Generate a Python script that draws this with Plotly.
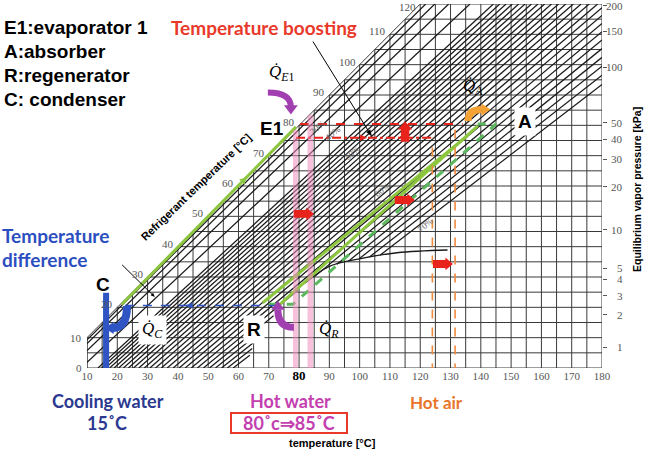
import math
import plotly.graph_objects as go

# ---------------- data ----------------
x_tick_vals = [10, 20, 30, 40, 50, 60, 70, 80, 90, 100, 110, 120, 130, 140, 150, 160, 170, 180]
ref_diag_labels = [20, 30, 40, 50, 60, 70, 80, 90, 100, 110, 120]
pressure_kpa = [200, 150, 100, 50, 40, 30, 20, 10, 5, 4, 3, 2, 1]
pressure_sat_temp = [119.4, 111.0, 99.2, 80.8, 75.4, 68.8, 59.8, 45.6, 32.9, 29.2, 23.9, 17.6, 6.9]

# LiBr concentration lines: solution temp = slope * refrigerant temp + offset
conc_pct = [10, 20, 30, 40, 45, 46, 47, 48, 49, 50, 51, 52, 53, 54, 55, 56, 57, 58, 59,
            60, 61, 62, 63, 64, 65, 66, 67, 68, 69, 70]
line_slope = [1.010, 1.025, 1.045, 1.070, 1.0878, 1.0952, 1.1018, 1.1077, 1.1131, 1.1179,
              1.1224, 1.1267, 1.1309, 1.1352, 1.1395, 1.1442, 1.1492, 1.1547, 1.1608,
              1.1676, 1.1753, 1.1839, 1.1937, 1.2046, 1.2168, 1.2306, 1.2458, 1.2628,
              1.2815, 1.3022]
line_offset = [0.6, 1.8, 4.0, 8.0, 13.62, 14.82, 16.11, 17.48, 18.93, 20.44, 22.02, 23.66,
               25.36, 27.11, 28.91, 30.75, 32.63, 34.54, 36.48, 38.44, 40.42, 42.41, 44.41,
               46.42, 48.42, 50.42, 52.41, 54.38, 56.34, 58.27]

# crystallization boundary (solution temp, refrigerant temp)
cryst_x = [62.0, 67.0, 75.0, 82.0, 90.0, 100.0, 112.3, 129.0, 180.0]
cryst_y = [0.0, 12.0, 21.0, 28.0, 33.5, 36.0, 38.0, 38.9, 39.6]

conc_label_pct = ["30%", "40%", "50%", "60%", "70%"]
conc_label_x = [86.2, 91.2, 97.5, 107.4, 121.6]
conc_label_y = [79.5, 77.6, 71.0, 58.7, 47.2]

# cycle (solution temp, refrigerant temp)
green_ref_x = [21.5, 79.0]
green_ref_y = [21.0, 79.5]
sol1_x = [68.0, 135.5]
sol1_y = [21.5, 76.5]
sol2_x = [73.5, 139.0]
sol2_y = [20.8, 79.8]
dash_x = [70.0, 78.0, 145.0, 139.0]
dash_y = [21.0, 21.0, 80.4, 80.4]

boost_hi_x = [80.3, 134.0]
boost_hi_y = [80.4, 80.4]
boost_lo_x = [79.0, 124.0]
boost_lo_y = [75.9, 75.9]
hot_air_x = [124.0, 131.5]
hot_air_top = [75.9, 80.4]
cond_x = [22.5, 73.7]
cond_y = [20.6, 20.6]
cooling_water_x = [15.3, 17.3]
hot_water_bands = [(78.0, 79.6, 78.5), (82.8, 84.6, 83.5)]

X0, X1, Y0, Y1 = 10, 180, 0, 120

fig = go.Figure()

# ---------------- grid (bounded Dühring region) ----------------
gx, gy = [], []
for v in range(10, 181, 5):
    top = min(max(v, 10), 120)
    gx += [v, v, None]
    gy += [0, top, None]
for h in range(0, 121, 5):
    gx += [max(10, h), 180, None]
    gy += [h, h, None]
gx += [10, 10, 120, None]
gy += [0, 10, 120, None]
fig.add_trace(go.Scatter(x=gx, y=gy, mode="lines", line=dict(color="#3a3a3a", width=1),
                         hoverinfo="skip", showlegend=False))


def cryst_boundary_x(y):
    if y > cryst_y[-1]:
        return 1e9
    for i in range(len(cryst_y) - 1):
        if cryst_y[i] <= y <= cryst_y[i + 1]:
            t = (y - cryst_y[i]) / (cryst_y[i + 1] - cryst_y[i])
            return cryst_x[i] + t * (cryst_x[i + 1] - cryst_x[i])
    return 1e9


# concentration lines, removed inside the crystallization zone
cx, cy = [], []
for a, b in zip(line_slope, line_offset):
    yend = min(120.0, (180.0 - b) / a)
    n = int(yend / 0.2) + 1
    ys = [min(yend, i * 0.2) for i in range(n + 1)]
    seg = []
    for yv in ys:
        ok = (a * yv + b) <= cryst_boundary_x(yv)
        if ok:
            seg.append(yv)
        else:
            if len(seg) > 1:
                cx += [a * seg[0] + b, a * seg[-1] + b, None]
                cy += [seg[0], seg[-1], None]
            seg = []
    if len(seg) > 1:
        cx += [a * seg[0] + b, a * seg[-1] + b, None]
        cy += [seg[0], seg[-1], None]
fig.add_trace(go.Scatter(x=cx, y=cy, mode="lines", line=dict(color="#1a1a1a", width=1.25),
                         hoverinfo="skip", showlegend=False))
fig.add_trace(go.Scatter(x=cryst_x[3:8], y=cryst_y[3:8], mode="lines",
                         line=dict(color="#1a1a1a", width=1.3, shape="spline"),
                         hoverinfo="skip", showlegend=False))

# invisible trace for right axis
fig.add_trace(go.Scatter(x=[180], y=[60], yaxis="y2", mode="markers",
                         marker=dict(opacity=0), hoverinfo="skip", showlegend=False))

GREEN = "#8dc63f"
DGREEN = "#5cb85c"
RED = "#e8231c"
ORANGE = "#f08a3c"
BLUE = "#2f55c4"
PURPLE = "#a23fb0"

fig.add_trace(go.Scatter(x=green_ref_x, y=green_ref_y, mode="lines",
                         line=dict(color=GREEN, width=3), showlegend=False, hoverinfo="skip"))
fig.add_trace(go.Scatter(x=sol1_x, y=sol1_y, mode="lines",
                         line=dict(color=GREEN, width=3), showlegend=False, hoverinfo="skip"))
fig.add_trace(go.Scatter(x=sol2_x, y=sol2_y, mode="lines",
                         line=dict(color=GREEN, width=3), showlegend=False, hoverinfo="skip"))
fig.add_trace(go.Scatter(x=dash_x, y=dash_y, mode="lines",
                         line=dict(color=DGREEN, width=3, dash="dash"), showlegend=False, hoverinfo="skip"))

fig.add_trace(go.Scatter(x=boost_hi_x, y=boost_hi_y, mode="lines",
                         line=dict(color=RED, width=2, dash="dash"), showlegend=False, hoverinfo="skip"))
fig.add_trace(go.Scatter(x=boost_lo_x, y=boost_lo_y, mode="lines",
                         line=dict(color=RED, width=2, dash="dashdot"), showlegend=False, hoverinfo="skip"))
for xv, tv in zip(hot_air_x, hot_air_top):
    fig.add_trace(go.Scatter(x=[xv, xv], y=[-1.5, tv], mode="lines",
                             line=dict(color=ORANGE, width=1.6, dash="dash"), showlegend=False,
                             hoverinfo="skip", cliponaxis=False))
fig.add_trace(go.Scatter(x=cond_x, y=cond_y, mode="lines",
                         line=dict(color=BLUE, width=1.6, dash="dash"), showlegend=False, hoverinfo="skip"))

shapes = []
for x0, x1, top in hot_water_bands:
    shapes.append(dict(type="rect", xref="x", yref="y", x0=x0, x1=x1, y0=0, y1=top,
                       fillcolor="rgba(240,140,190,0.55)", line=dict(width=0), layer="above"))
shapes.append(dict(type="rect", xref="x", yref="y", x0=cooling_water_x[0], x1=cooling_water_x[1],
                   y0=-0.5, y1=24.8, fillcolor=BLUE, line=dict(width=0), layer="above"))


def block_arrow_right(cx_, cy_):
    return dict(type="path", xref="x", yref="y", layer="above", fillcolor=RED, line=dict(width=0),
                path=f"M {cx_-3.3},{cy_-1.3} L {cx_+0.8},{cy_-1.3} L {cx_+0.8},{cy_-2.1} "
                     f"L {cx_+3.3},{cy_} L {cx_+0.8},{cy_+2.1} L {cx_+0.8},{cy_+1.3} "
                     f"L {cx_-3.3},{cy_+1.3} Z")


for cxy in [(81.6, 50.8), (114.9, 55.4), (127.5, 34.3)]:
    shapes.append(block_arrow_right(*cxy))
shapes.append(dict(type="path", xref="x", yref="y", layer="above", fillcolor=RED, line=dict(width=0),
                   path="M 113.6,74.6 L 116.4,74.6 L 116.4,78.6 L 117.4,78.6 L 115.0,81.3 "
                        "L 112.6,78.6 L 113.6,78.6 Z"))


def curved_arrow(p0, c, p1, head, color, w):
    out = [dict(type="path", xref="x", yref="y", layer="above",
                path=f"M {p0[0]},{p0[1]} Q {c[0]},{c[1]} {p1[0]},{p1[1]}",
                line=dict(color=color, width=w))]
    out.append(dict(type="path", xref="x", yref="y", layer="above", fillcolor=color,
                    line=dict(width=0),
                    path=f"M {head[0][0]},{head[0][1]} L {head[1][0]},{head[1][1]} L {head[2][0]},{head[2][1]} Z"))
    return out


def straight_arrow(x0, y0, x1, y1, color, w, hl=2.2, hw=1.0, draw_line=True):
    """line from (x0,y0) to tip (x1,y1) with a filled head (sizes in data units, equal scales)"""
    dx, dy = x1 - x0, y1 - y0
    L = math.hypot(dx, dy)
    ux, uy = dx / L, dy / L
    bx, by = x1 - ux * hl, y1 - uy * hl
    px_, py_ = -uy * hw, ux * hw
    out = []
    if draw_line:
        out.append(dict(type="line", xref="x", yref="y", x0=x0, y0=y0, x1=bx, y1=by,
                        line=dict(color=color, width=w), layer="above"))
    out.append(dict(type="path", xref="x", yref="y", layer="above", fillcolor=color,
                    line=dict(width=0),
                    path=f"M {x1},{y1} L {bx+px_},{by+py_} L {bx-px_},{by-py_} Z"))
    return out


shapes += curved_arrow((69.7, 90.8), (77.3, 90.8), (77.3, 86.0),
                       [(75.0, 86.6), (79.6, 86.6), (77.3, 83.6)], PURPLE, 6)
shapes += curved_arrow((78.3, 13.4), (73.0, 13.4), (73.0, 19.3),
                       [(70.8, 19.2), (75.2, 19.2), (73.0, 22.2)], PURPLE, 7)
shapes += curved_arrow((135.8, 81.4), (135.8, 85.2), (140.3, 85.2),
                       [(140.2, 83.2), (140.2, 87.2), (143.2, 85.2)], "#f5a235", 7)
shapes += curved_arrow((23.2, 20.4), (23.2, 13.2), (18.6, 13.2),
                       [(18.8, 11.2), (18.8, 15.2), (15.8, 13.2)], BLUE, 8)

shapes += straight_arrow(84.6, 107.6, 104.1, 76.2, "black", 1, hl=2.4, hw=0.8)
shapes += straight_arrow(21.6, 34.0, 32.4, 23.4, "black", 1, hl=1.4, hw=0.6)
shapes += straight_arrow(58.0, 58.2, 62.8, 63.0, GREEN, 2, hl=2.4, hw=1.2, draw_line=False)
shapes += straight_arrow(48.0, 20.6, 42.5, 20.6, BLUE, 1.6, hl=2.4, hw=1.0, draw_line=False)
shapes += straight_arrow(96.0, 75.9, 102.5, 75.9, RED, 1.6, hl=2.4, hw=1.0, draw_line=False)

ann = []


def P(px, py):
    return (px - 87) / 515.0, (368 - py) / 364.0


def text(px, py, s, size, color="black", family="Liberation Sans", xanchor="center",
         angle=0, bold=False, bg=None):
    x, y = P(px, py)
    d = dict(xref="paper", yref="paper", x=x, y=y, text=(f"<b>{s}</b>" if bold else s),
             showarrow=False, xanchor=xanchor, yanchor="middle", textangle=angle,
             font=dict(size=size, color=color, family=family))
    if bg:
        d.update(bgcolor=bg, borderpad=3)
    ann.append(d)


for v in ref_diag_labels:
    ann.append(dict(xref="x", yref="y", x=v, y=v, text=str(v), showarrow=False,
                    xanchor="right", yanchor="middle", xshift=-2, yshift=(-3 if v == 120 else 3),
                    font=dict(size=11, color="#555", family="Liberation Serif")))
for v in [0, 10]:
    ann.append(dict(xref="x", yref="y", x=10, y=v, text=str(v), showarrow=False,
                    xanchor="right", yanchor="middle", xshift=-3,
                    font=dict(size=11, color="#555", family="Liberation Serif")))
for p, t in zip(pressure_kpa, pressure_sat_temp):
    ann.append(dict(xref="x", yref="y", x=180, y=t, text=str(p), showarrow=False,
                    xanchor="right", yanchor="middle", xshift=23,
                    font=dict(size=11, color="#555", family="Liberation Serif")))
for s, x, y in zip(conc_label_pct, conc_label_x, conc_label_y):
    ann.append(dict(xref="x", yref="y", x=x, y=y, text=s, showarrow=False, textangle=-40,
                    font=dict(size=9, color="#666", family="Liberation Serif")))

text(2, 28, "E1:evaporator 1", 19, bold=True, xanchor="left")
text(2, 52, "A:absorber", 19, bold=True, xanchor="left")
text(2, 76, "R:regenerator", 19, bold=True, xanchor="left")
text(2, 100, "C: condenser", 19, bold=True, xanchor="left")
text(264, 28, "Temperature boosting", 19, color="#e8392b", family="Lato", bold=True)
text(0, 236, "Temperature", 19, color="#2b4ec0", family="Lato", bold=True, xanchor="left")
text(0, 259, "difference", 19, color="#2b4ec0", family="Lato", bold=True, xanchor="left")
text(103, 284, "C", 19, bold=True)
text(272, 128, "E1", 19, bold=True)
text(525, 122, "A", 19, bold=True, bg="white")
text(254, 329, "R", 19, bold=True, bg="white")
text(282, 73, "<i>Q̇</i><sub><i>E</i>1</sub>", 17, family="Liberation Serif")
text(473, 87, "<i>Q̇</i><sub><i>A</i></sub>", 17, family="Liberation Serif")
text(152, 330, "<i>Q̇</i><sub><i>C</i></sub>", 17, family="Liberation Serif", bg="white")
text(329, 330, "<i>Q̇</i><sub><i>R</i></sub>", 17, family="Liberation Serif")
text(196, 187, "Refrigerant temperature [°C]", 11, bold=True, angle=-44)
text(637, 190, "Equilibrium vapor pressure [kPa]", 10.5, bold=True, angle=-90)
text(108, 401, "Cooling water", 18, color="#2b3990", family="Lato", bold=True)
text(107, 423, "15˚C", 18, color="#2b3990", family="Lato", bold=True)
text(290, 401, "Hot water", 18, color="#c43fb0", family="Lato", bold=True)
text(289, 423, "80˚c⇒85˚C", 18, color="#c43fb0", family="Lato", bold=True)
text(436, 402, "Hot air", 17, color="#e8752a", family="Lato", bold=True)
text(332, 443, "temperature [°C]", 11, bold=True)

shapes.append(dict(type="rect", xref="paper", yref="paper",
                   x0=P(231, 0)[0], x1=P(347, 0)[0], y0=P(0, 433)[1], y1=P(0, 413)[1],
                   line=dict(color="#e8392b", width=2), fillcolor="rgba(0,0,0,0)"))

tick_text = [("<span style='color:black;font-size:13px'><b>80</b></span>" if v == 80 else str(v))
             for v in x_tick_vals]

fig.update_layout(
    width=648, height=452,
    margin=dict(l=87, r=46, t=4, b=84),
    paper_bgcolor="white", plot_bgcolor="white",
    xaxis=dict(range=[X0, X1], showgrid=False, zeroline=False, showline=False,
               tickvals=x_tick_vals, ticktext=tick_text, ticks="",
               tickfont=dict(size=11, color="#555", family="Liberation Serif")),
    yaxis=dict(range=[Y0, Y1], visible=False),
    yaxis2=dict(range=[Y0, Y1], overlaying="y", side="right", showgrid=False, zeroline=False,
                showline=False, tickvals=pressure_sat_temp, showticklabels=False,
                ticks="outside", ticklen=4, tickcolor="#555"),
    shapes=shapes, annotations=ann,
)

fig.write_html("out.html")
